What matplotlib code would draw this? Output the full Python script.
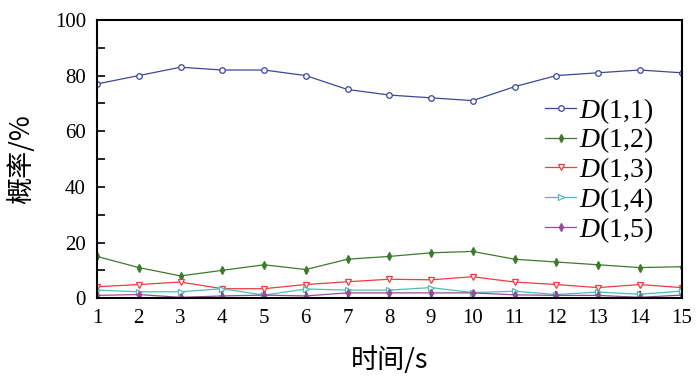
import matplotlib
matplotlib.use("Agg")
import matplotlib.pyplot as plt
from matplotlib.ticker import MultipleLocator

plt.rcParams['font.family'] = ['Liberation Serif', 'Noto Sans CJK SC']
plt.rcParams['mathtext.fontset'] = 'custom'
plt.rcParams['mathtext.it'] = 'Liberation Serif:italic'
plt.rcParams['mathtext.rm'] = 'Liberation Serif'

time_s = list(range(1, 16))
d11 = [77, 80, 83, 82, 82, 80, 75, 73, 72, 71, 76, 80, 81, 82, 81]
d12 = [15, 11, 8, 10, 12, 10.3, 14, 15, 16.3, 16.8, 14, 13, 12, 11, 11.3]
d13 = [4.1, 4.9, 5.8, 3.4, 3.4, 4.9, 5.9, 6.8, 6.6, 7.7, 5.8, 4.9, 3.8, 4.9, 3.8]
d14 = [2.9, 2.3, 2.3, 3.4, 1.1, 3.3, 2.9, 2.9, 3.8, 2.0, 2.5, 1.3, 2.2, 1.4, 2.5]
d15 = [1.0, 1.3, 0.3, 0.8, 1.1, 0.8, 1.9, 1.9, 1.9, 1.9, 1.2, 1.0, 1.0, 0.3, 1.1]
labels = ['$D$(1,1)', '$D$(1,2)', '$D$(1,3)', '$D$(1,4)', '$D$(1,5)']

fig = plt.figure(figsize=(7, 3.76), dpi=100)
ax = fig.add_axes([0.1386, 0.207, 0.835, 0.740])

ax.plot(time_s, d11, color='#3b479b', lw=0.9, marker='o', ms=4, mfc='white', mec='#3b479b', mew=0.9, label=labels[0])
ax.plot(time_s, d12, color='#3d7a2e', lw=0.9, marker='d', ms=4, mfc='#3d7a2e', mec='#3d7a2e', label=labels[1])
ax.plot(time_s, d13, color='#f03c3c', lw=0.9, marker='v', ms=5, mfc='white', mec='#f03c3c', mew=0.9, label=labels[2])
ax.plot(time_s, d14, color='#4cbfb4', lw=0.9, marker='>', ms=5, mfc='white', mec='#4cbfb4', mew=0.9, label=labels[3])
ax.plot(time_s, d15, color='#9b4a9b', lw=0.9, marker='d', ms=4, mfc='#9b4a9b', mec='#9b4a9b', label=labels[4])

ax.set_xlim(1, 15)
ax.set_ylim(0, 100)
ax.set_xticks(time_s)
ax.yaxis.set_major_locator(MultipleLocator(20))
ax.yaxis.set_minor_locator(MultipleLocator(10))
ax.tick_params(axis='both', which='both', direction='in', labelsize=15, width=1.2)
ax.tick_params(axis='y', which='major', length=6, pad=8)
ax.tick_params(axis='y', which='minor', length=6)
ax.tick_params(axis='x', which='major', length=5, pad=8)
for s in ax.spines.values():
    s.set_linewidth(1.5)

ax.set_xlabel('时间/s', fontsize=19.5, family=['Noto Sans CJK SC', 'Liberation Serif'], labelpad=13)
ax.set_ylabel('概率/%', fontsize=19.5, family=['Noto Sans CJK SC', 'Liberation Serif'], labelpad=14)

leg = ax.legend(loc='center left', bbox_to_anchor=(0.748, 0.46), frameon=False, fontsize=20,
                handlelength=1.1, handletextpad=0.1, labelspacing=0.0, borderaxespad=0)

fig.savefig('out.png', dpi=100)
